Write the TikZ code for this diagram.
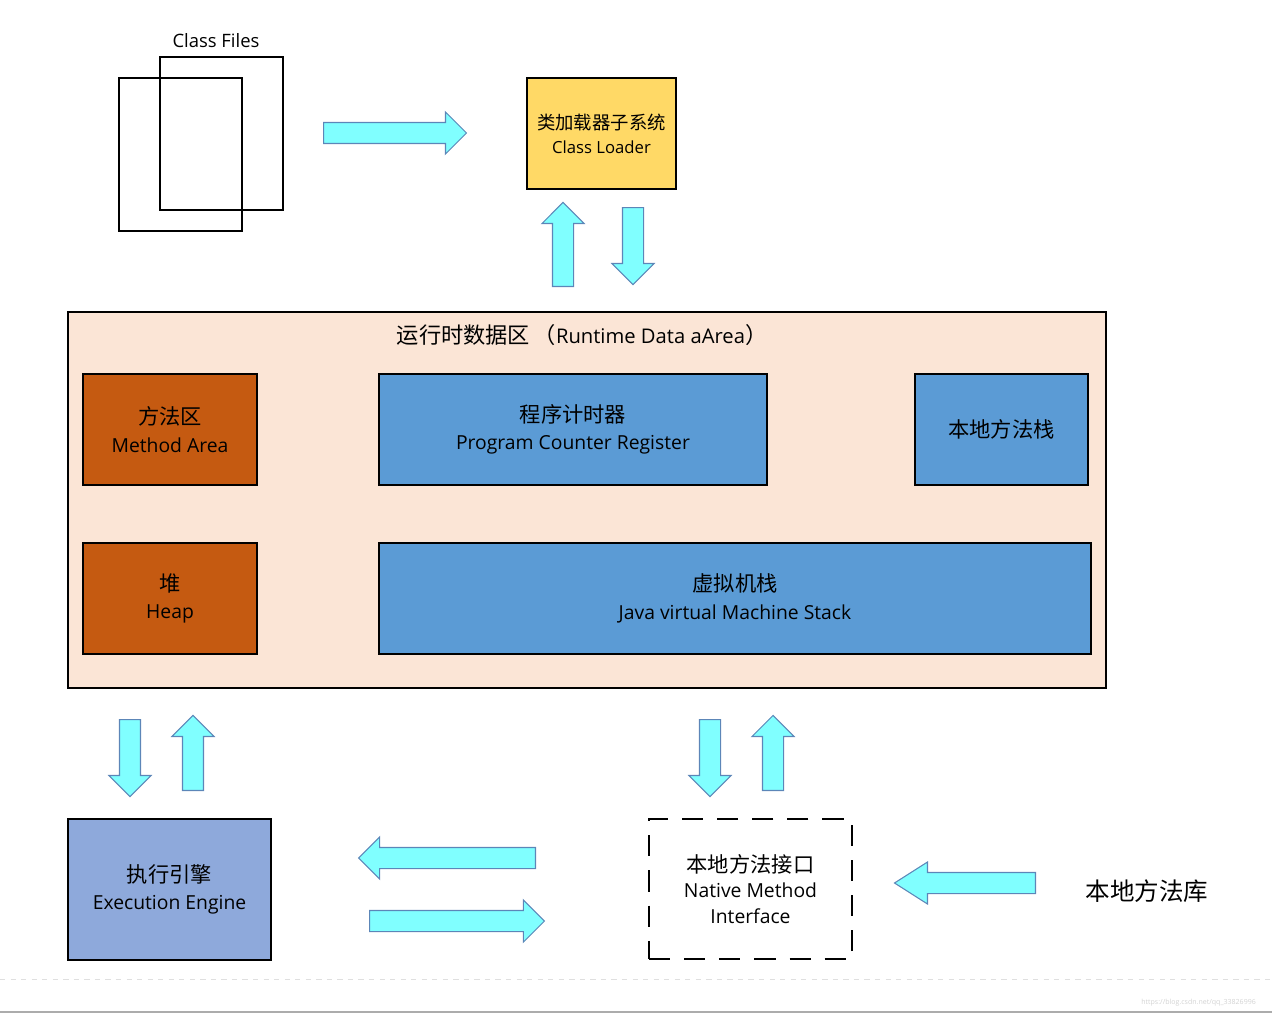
\documentclass[tikz,border=0pt]{standalone}
\usepackage{fontspec}
\setmainfont{Open Sans}
\newfontfamily\cjk[Scale=1.1]{Noto Sans CJK SC}
\usetikzlibrary{shapes.arrows}

\definecolor{loaderyellow}{HTML}{FFD966}
\definecolor{areapeach}{HTML}{FBE5D6}
\definecolor{methodbrown}{HTML}{C55A11}
\definecolor{stackblue}{HTML}{5B9BD5}
\definecolor{engineblue}{HTML}{8EA9DB}
\definecolor{arrowcyan}{HTML}{80FFFF}
\definecolor{arrowedge}{HTML}{5C86B8}

\begin{document}
\begin{tikzpicture}[x=0.02cm, y=-0.02cm,
    box/.style={draw, line width=1pt, align=center, inner sep=2pt, font=\fontsize{11}{15.6}\selectfont},
    filebox/.style={draw, line width=0.9pt, minimum width=2.46cm, minimum height=3.06cm},
    fatarrow/.style={single arrow, draw=arrowedge, fill=arrowcyan, line width=0.6pt,
      inner xsep=0pt, inner ysep=0.2cm, single arrow head extend=0.21cm, anchor=tail}
  ]
  \useasboundingbox (0,0) rectangle (1272,1017);

  % class files
  \node[font=\fontsize{10.5}{12}\selectfont] (files) at (216,41) {Class Files};
  \node[filebox] (fileback) at (221.5,133.5) {};
  \node[filebox] (filefront) at (180.5,154.5) {};

  % class loader
  \node[box, fill=loaderyellow, minimum width=2.98cm, minimum height=2.22cm,
    font=\fontsize{9.5}{13.6}\selectfont] (loader) at (601.5,133.5) {{\cjk 类加载器子系统}\\Class Loader};

  % runtime data area
  \node[box, fill=areapeach, minimum width=20.76cm, minimum height=7.52cm] (runtime) at (587,500) {};
  \node[font=\fontsize{11.5}{13}\selectfont] (runtitle) at (582,335) {{\cjk 运行时数据区\,（}Runtime Data aArea{\cjk ）}};

  \node[box, fill=methodbrown, minimum width=3.48cm, minimum height=2.22cm] (method) at (170,429.5) {{\cjk 方法区}\\Method Area};
  \node[box, fill=stackblue, minimum width=7.76cm, minimum height=2.22cm] (pcr) at (573,429.5) {{\cjk 程序计时器}\\Program Counter Register};
  \node[box, fill=stackblue, minimum width=3.46cm, minimum height=2.22cm] (nativestack) at (1001.5,429.5) {\cjk 本地方法栈};
  \node[box, fill=methodbrown, minimum width=3.48cm, minimum height=2.22cm] (heap) at (170,598.5) {{\cjk 堆}\\Heap};
  \node[box, fill=stackblue, minimum width=14.24cm, minimum height=2.22cm] (jvmstack) at (735,598.5) {{\cjk 虚拟机栈}\\Java virtual Machine Stack};

  % execution engine and native interface
  \node[box, fill=engineblue, minimum width=4.06cm, minimum height=2.82cm,
    font=\fontsize{11}{15.3}\selectfont] (engine) at (169.5,889.5) {{\cjk 执行引擎}\\Execution Engine};
  \node[box, dash pattern=on 12pt off 8pt, line width=1.1pt, minimum width=4.06cm, minimum height=2.8cm,
    font=\fontsize{11}{14.7}\selectfont] (nativeif) at (750.5,889) {{\cjk 本地方法接口}\\Native Method\\Interface};
  \node[font=\cjk\fontsize{12.7}{15}\selectfont] (nativelib) at (1147,891) {本地方法库};

  % block arrows
  \node[fatarrow, minimum height=2.86cm] (arrfiles) at (323,133) {};
  \node[fatarrow, rotate=90, minimum height=1.68cm] (arrloadup) at (563,287) {};
  \node[fatarrow, rotate=-90, minimum height=1.54cm] (arrloaddown) at (633,207) {};
  \node[fatarrow, rotate=-90, minimum height=1.54cm] (arrengdown) at (130,719) {};
  \node[fatarrow, rotate=90, minimum height=1.5cm] (arrengup) at (193,791) {};
  \node[fatarrow, rotate=-90, minimum height=1.54cm] (arrnatdown) at (710,719) {};
  \node[fatarrow, rotate=90, minimum height=1.5cm] (arrnatup) at (773,791) {};
  \node[fatarrow, rotate=180, minimum height=3.54cm] (arrtoengine) at (536,858) {};
  \node[fatarrow, minimum height=3.5cm] (arrfromengine) at (369,921) {};
  \node[fatarrow, rotate=180, single arrow tip angle=65, minimum height=2.82cm] (arrlib) at (1036,883) {};

  % page edge
  \draw[dashed, gray!25] (0,979) -- (1272,979);
  \draw[gray!65, line width=1.1pt] (0,1012) -- (1272,1012);
  \node[anchor=east, text=gray!35, font=\fontsize{4}{5}\selectfont] (mark) at (1262,1003) {https://blog.csdn.net/qq\_33826996};
\end{tikzpicture}
\end{document}
